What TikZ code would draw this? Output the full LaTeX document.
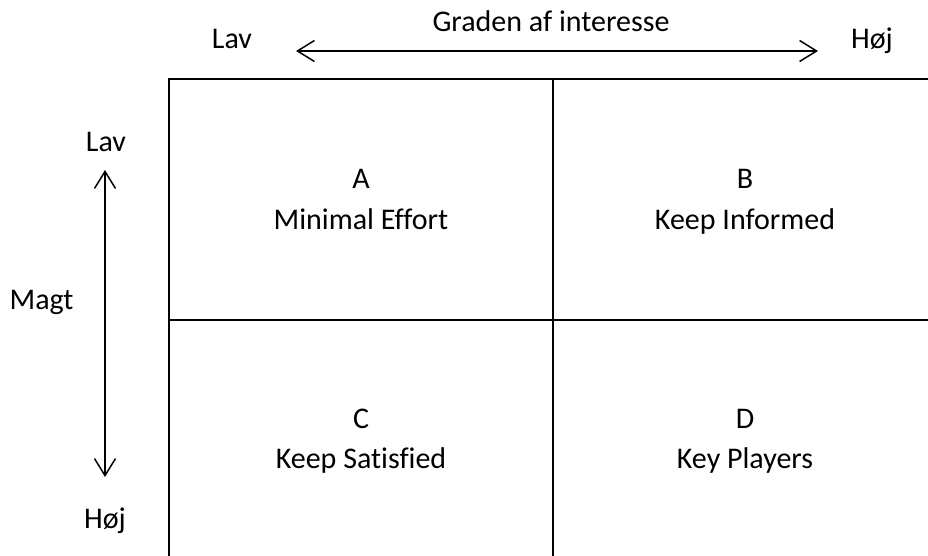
\documentclass[tikz,border=0pt]{standalone}
\usepackage{fontspec}
\setmainfont{Carlito}[Ligatures={NoCommon}]
\usetikzlibrary{arrows.meta}
\tikzset{
  lbl/.style={anchor=base, inner sep=0pt, font=\fontsize{30}{36}\selectfont},
  gridline/.style={line width=2.8pt, line cap=rect},
  axis/.style={line width=1.5pt, {Straight Barb[length=17pt,width=21pt,line width=1.5pt]}-{Straight Barb[length=17pt,width=21pt,line width=1.5pt]}}
}
\begin{document}
\begin{tikzpicture}[x=1pt,y=-1pt]
\useasboundingbox (0,0) rectangle (928,556);
% matrix grid (open towards right and bottom)
\draw[gridline] (930,79) -- (169,79) -- (169,560);
\draw[gridline] (553,79) -- (553,560);
\draw[gridline] (169,320) -- (930,320);
% horizontal axis: interest
\node[lbl] (title) at (551,32) {Graden af interesse};
\node[lbl] (hlow) at (232,49) {Lav};
\node[lbl] (hhigh) at (872,49) {Høj};
\coordinate (hl) at (296,51);
\coordinate (hr) at (818,51);
\draw[axis] (hl) -- (hr);
% vertical axis: power
\node[lbl] (vlow) at (106,152) {Lav};
\node[lbl] (vhigh) at (105,528) {Høj};
\node[lbl] (power) at (41.5,309) {Magt};
\coordinate (vt) at (105,170);
\coordinate (vb) at (105,477);
\draw[axis] (vt) -- (vb);
% quadrants
\node[lbl] (a) at (361,189) {A};
\node[lbl] (atext) at (361,229) {Minimal Effort};
\node[lbl] (b) at (745,189) {B};
\node[lbl] (btext) at (745,229) {Keep Informed};
\node[lbl] (c) at (361,428) {C};
\node[lbl] (ctext) at (361,468) {Keep Satisfied};
\node[lbl] (d) at (745,428) {D};
\node[lbl] (dtext) at (745,468) {Key Players};
\end{tikzpicture}
\end{document}
